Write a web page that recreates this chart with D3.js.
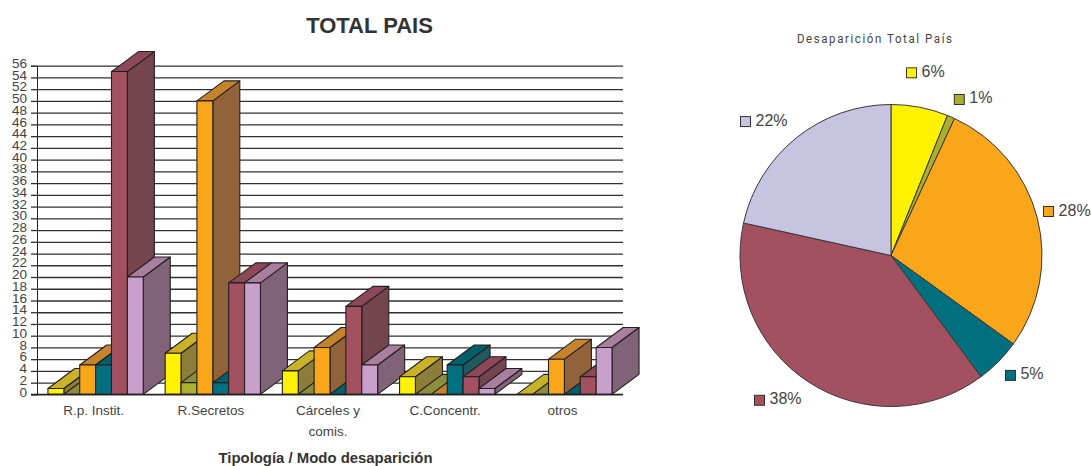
<!DOCTYPE html>
<html>
<head>
<meta charset="utf-8">
<script src="https://cdn.jsdelivr.net/npm/d3@7"></script>
<style>
  body { margin: 0; background: #fff; }
  svg { display: block; }
  text { font-family: "Liberation Sans", Arial, sans-serif; }
</style>
</head>
<body>
<div id="chart"></div>
<script>
// chart data
var categories = ["R.p. Instit.", "R.Secretos", "Cárceles y|comis.", "C.Concentr.", "otros"];
var seriesNames = ["a", "b", "c", "d", "e", "f"];
var seriesA = [1, 7, 4, 3, 0];
var seriesB = [0, 2, 0, 0, 0];
var seriesC = [5, 50, 8, 0, 6];
var seriesD = [5, 2, 0, 5, 0];
var seriesE = [55, 19, 15, 3, 3];
var seriesF = [20, 19, 5, 1, 8];
var yTicks = d3.range(0, 57, 2);
var pieValues = [15, 2, 69, 12, 95, 53];
var pieLabels = ["6%", "1%", "28%", "5%", "38%", "22%"];

// colors for each series
var frontColors = ["#fff200", "#abae2f", "#faa61a", "#00707f", "#a35161", "#c8a0cb"];
var topColors = ["#c9b227", "#8b8e3c", "#c5832c", "#005f69", "#8c4858", "#a87f9f"];
var sideColors = ["#8e7d3a", "#878a3e", "#92623a", "#1f5a61", "#74444f", "#806376"];
var pieColors = ["#fff200", "#abae2f", "#faa61a", "#00707f", "#a35161", "#c7c4e2"];

var svgWidth = 1091;
var svgHeight = 466;
var lineColor = "#231f20";
var gridColor = "#333031";
var textColor = "#444";

var svg = d3.select("#chart").append("svg")
    .attr("width", svgWidth)
    .attr("height", svgHeight);

// bar chart area
var plot = { left: 37, right: 623, top: 65.7, bottom: 394.4 };
var depthX = 27;
var depthY = 20;

var yScale = d3.scaleLinear().domain([0, 56]).range([plot.bottom, plot.top]);
var xScale = d3.scaleBand().domain(categories).range([plot.left, plot.right])
    .paddingInner(0.187).paddingOuter(0.0935);
var barScale = d3.scaleBand().domain(seriesNames).range([0, xScale.bandwidth()]);

// y axis with gridlines
var yAxis = svg.append("g")
    .attr("transform", `translate(${plot.left}, 0)`)
    .call(d3.axisLeft(yScale).tickValues(yTicks).tickSize(6).tickPadding(4));
yAxis.select(".domain").attr("stroke", lineColor).attr("stroke-width", 1);
yAxis.selectAll(".tick line").attr("stroke", gridColor).attr("stroke-width", 1.3);
yAxis.selectAll(".tick").append("line")
    .attr("x1", 0)
    .attr("x2", plot.right - plot.left)
    .attr("stroke", gridColor)
    .attr("stroke-width", 1.3);
yAxis.selectAll(".tick text")
    .attr("dy", "0.12em")
    .attr("font-size", 13.5)
    .attr("font-family", "Liberation Sans")
    .attr("fill", textColor);

// x axis labels, two lines for the long one
var xAxis = svg.append("g")
    .attr("transform", `translate(-2, ${plot.bottom})`)
    .call(d3.axisBottom(xScale).tickSize(0).tickFormat(""));
xAxis.select(".domain").remove();
xAxis.selectAll(".tick text").remove();
xAxis.selectAll(".tick").each(function(d) {
    var parts = d.split("|");
    var tick = d3.select(this);
    parts.forEach(function(p, i) {
        tick.append("text")
            .attr("y", 21 + i * 20.5)
            .attr("text-anchor", "middle")
            .attr("font-size", 13.5)
            .attr("fill", textColor)
            .text(p);
    });
});

// one 3D bar: front, top and side faces
function drawBar(group, x, w, value, s) {
    var y0 = yScale(0);
    var y1 = yScale(value);
    var faces = group.append("g")
        .attr("stroke", lineColor)
        .attr("stroke-width", 1.1)
        .attr("stroke-linejoin", "round");
    faces.append("path")
        .attr("fill", sideColors[s])
        .attr("d", `M${x + w},${y0}L${x + w + depthX},${y0 - depthY}L${x + w + depthX},${y1 - depthY}L${x + w},${y1}Z`);
    faces.append("path")
        .attr("fill", topColors[s])
        .attr("d", `M${x},${y1}L${x + depthX},${y1 - depthY}L${x + w + depthX},${y1 - depthY}L${x + w},${y1}Z`);
    if (value > 0) {
        faces.append("rect")
            .attr("x", x)
            .attr("y", y1)
            .attr("width", w)
            .attr("height", y0 - y1)
            .attr("fill", frontColors[s]);
    }
}

var allSeries = [seriesA, seriesB, seriesC, seriesD, seriesE, seriesF];
var barsGroup = svg.append("g");
categories.forEach(function(c, i) {
    allSeries.forEach(function(values, s) {
        drawBar(barsGroup, xScale(c) + barScale(seriesNames[s]), barScale.bandwidth(), values[i], s);
    });
});

// baseline on top of the bars
svg.append("line")
    .attr("x1", plot.left - 6)
    .attr("x2", plot.right)
    .attr("y1", yScale(0))
    .attr("y2", yScale(0))
    .attr("stroke", lineColor)
    .attr("stroke-width", 1.4);

// titles
svg.append("text")
    .attr("x", 369.5)
    .attr("y", 33)
    .attr("text-anchor", "middle")
    .attr("font-size", 22)
    .attr("font-weight", "bold")
    .attr("fill", "#333")
    .text("TOTAL PAIS");

svg.append("text")
    .attr("x", 325.5)
    .attr("y", 463)
    .attr("text-anchor", "middle")
    .attr("font-size", 14.9)
    .attr("font-weight", "bold")
    .attr("fill", "#333")
    .text("Tipología / Modo desaparición");

// narrow letter-spaced pie title
svg.append("text")
    .attr("transform", "translate(874.5, 43) scale(0.85, 1)")
    .attr("text-anchor", "middle")
    .attr("font-size", 13.5)
    .attr("textLength", 155 / 0.85)
    .attr("lengthAdjust", "spacing")
    .attr("fill", textColor)
    .style("font-family", "Roboto")
    .text("Desaparición Total País");

// pie
var pieCenter = { x: 891, y: 255.5 };
var radius = 151;
var labelRadius = 182;
var keyNudgeX = [0, 10, 0, 4, -14, -13];
var keyNudgeY = [-4, 11, 2, -8, -8, 8];

var pieGroup = svg.append("g")
    .attr("transform", `translate(${pieCenter.x}, ${pieCenter.y})`);

var pie = d3.pie().sort(null);
var arcs = pie(pieValues);
var arc = d3.arc().innerRadius(0).outerRadius(radius);
var labelArc = d3.arc().innerRadius(labelRadius).outerRadius(labelRadius);

pieGroup.selectAll("path")
    .data(arcs)
    .enter()
    .append("path")
    .attr("d", arc)
    .attr("fill", (d, i) => pieColors[i])
    .attr("stroke", "#3a3637")
    .attr("stroke-width", 1);

// percent labels with their color keys, centered on the label position
var keys = pieGroup.selectAll("g.key")
    .data(arcs)
    .enter()
    .append("g")
    .attr("class", "key")
    .attr("transform", function(d, i) {
        var c = labelArc.centroid(d);
        return `translate(${c[0] + keyNudgeX[i]}, ${c[1] + keyNudgeY[i]})`;
    });

keys.append("text")
    .attr("y", 4)
    .attr("font-size", 16)
    .attr("fill", textColor)
    .text((d, i) => pieLabels[i]);

keys.each(function() {
    var key = d3.select(this);
    var t = key.select("text");
    var w = t.node().getComputedTextLength();
    var left = -(10 + 5 + w) / 2;
    t.attr("x", left + 15);
    key.append("rect")
        .attr("x", left)
        .attr("y", -5)
        .attr("width", 10)
        .attr("height", 10)
        .attr("fill", d => pieColors[d.index])
        .attr("stroke", lineColor)
        .attr("stroke-width", 0.9);
});
</script>
</body>
</html>
